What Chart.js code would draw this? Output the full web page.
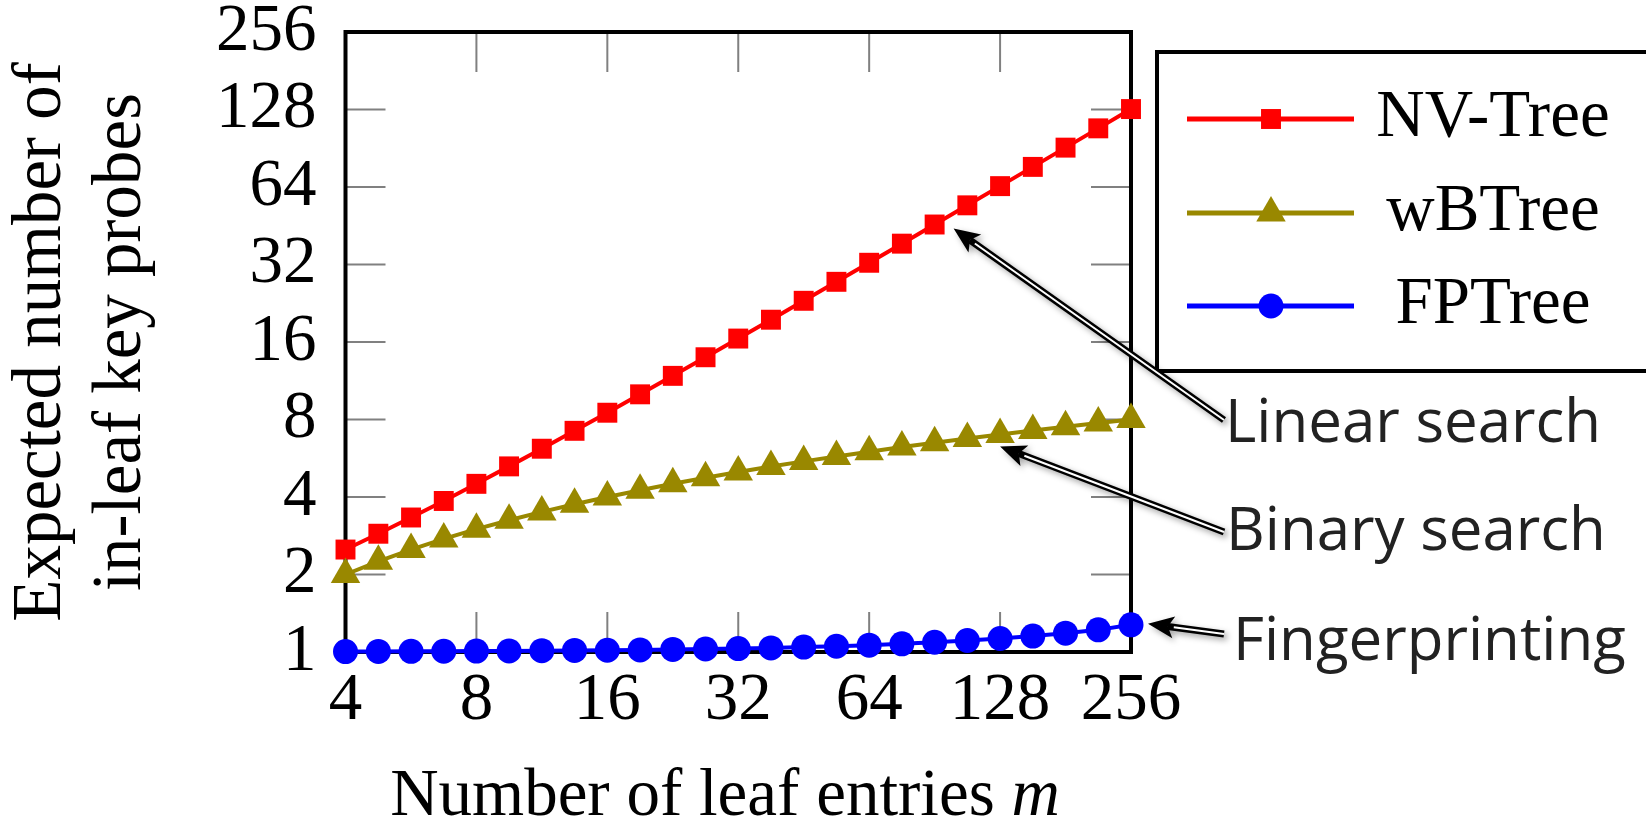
<!DOCTYPE html>
<html>
<head>
<meta charset="utf-8">
<title>Expected in-leaf key probes</title>
<script src="https://cdn.jsdelivr.net/npm/chart.js@4.4.1/dist/chart.umd.min.js"></script>
<style>
  html, body { margin: 0; padding: 0; background: #fff; }
  #wrap { width: 1646px; height: 820px; }
</style>
</head>
<body>
<div id="wrap"><canvas id="chart" width="1646" height="820"></canvas></div>
<script>
// Leaf sizes m (quarter-octave steps) and expected probes per search strategy
const leafEntries = [4, 4.76, 5.66, 6.73, 8, 9.51, 11.31, 13.45, 16, 19.03, 22.63, 26.91, 32,
  38.05, 45.25, 53.82, 64, 76.11, 90.51, 107.63, 128, 152.22, 181.02, 215.27, 256];
const nvTree = [2.5, 2.88, 3.33, 3.86, 4.5, 5.26, 6.16, 7.23, 8.5, 10.02, 11.82, 13.96, 16.5,
  19.53, 23.13, 27.41, 32.5, 38.56, 45.76, 54.32, 64.5, 76.61, 91.01, 108.14, 128.5];
const wbTree = [2, 2.25, 2.5, 2.75, 3, 3.25, 3.5, 3.75, 4, 4.25, 4.5, 4.75, 5,
  5.25, 5.5, 5.75, 6, 6.25, 6.5, 6.75, 7, 7.25, 7.5, 7.75, 8];
const fpTree = [1.004, 1.005, 1.006, 1.007, 1.008, 1.01, 1.012, 1.014, 1.016, 1.019, 1.023, 1.027, 1.031,
  1.037, 1.045, 1.053, 1.063, 1.076, 1.091, 1.108, 1.128, 1.153, 1.183, 1.219, 1.275];
const seriesNames = ['NV-Tree', 'wBTree', 'FPTree'];
const xTicks = [4, 8, 16, 32, 64, 128, 256];
const yTicks = [1, 2, 4, 8, 16, 32, 64, 128, 256];
const calloutTexts = ['Linear search', 'Binary search', 'Fingerprinting'];

const SERIF = 'Liberation Serif';
const SANS = 'Open Sans';

function points(values) {
  return leafEntries.map((m, i) => ({ x: m, y: values[i] }));
}

function series(label, values, color, style, radius, order) {
  return {
    label,
    data: points(values),
    borderColor: color,
    backgroundColor: color,
    borderWidth: 4,
    pointStyle: style,
    pointRadius: radius,
    pointBorderWidth: 0,
    pointHoverRadius: radius,
    fill: false,
    clip: false,
    order
  };
}

// Frame with inward grey ticks on all four sides
const framePlugin = {
  id: 'frame',
  beforeDatasetsDraw(chart) {
    const { ctx, chartArea: a, scales: { x, y } } = chart;
    ctx.save();
    ctx.strokeStyle = '#808080';
    ctx.lineWidth = 2;
    ctx.beginPath();
    xTicks.slice(1, -1).forEach(v => {
      const px = x.getPixelForValue(v);
      ctx.moveTo(px, a.bottom); ctx.lineTo(px, a.bottom - 40);
      ctx.moveTo(px, a.top); ctx.lineTo(px, a.top + 40);
    });
    yTicks.slice(1, -1).forEach(v => {
      const py = y.getPixelForValue(v);
      ctx.moveTo(a.left, py); ctx.lineTo(a.left + 40, py);
      ctx.moveTo(a.right, py); ctx.lineTo(a.right - 40, py);
    });
    ctx.stroke();
    ctx.strokeStyle = '#000';
    ctx.lineWidth = 4;
    ctx.strokeRect(a.left, a.top, a.right - a.left, a.bottom - a.top);
    ctx.restore();
  }
};

function drawMarker(ctx, style, r, cx, cy) {
  ctx.beginPath();
  if (style === 'rect') {
    const s = r * Math.SQRT1_2;
    ctx.rect(cx - s, cy - s, 2 * s, 2 * s);
  } else if (style === 'triangle') {
    ctx.moveTo(cx, cy - r);
    ctx.lineTo(cx + r * Math.sin(2 * Math.PI / 3), cy + r * 0.5);
    ctx.lineTo(cx - r * Math.sin(2 * Math.PI / 3), cy + r * 0.5);
    ctx.closePath();
  } else {
    ctx.arc(cx, cy, r, 0, Math.PI * 2);
  }
  ctx.fill();
}

function drawArrow(ctx, x0, y0, x1, y1) {
  const ang = Math.atan2(y1 - y0, x1 - x0);
  const c = Math.cos(ang), s = Math.sin(ang);
  const headLen = 26, headHalf = 11;
  const bx = x1 - c * headLen, by = y1 - s * headLen;
  ctx.save();
  ctx.shadowColor = 'rgba(0,0,0,0.35)';
  ctx.shadowBlur = 6;
  ctx.shadowOffsetX = 3;
  ctx.shadowOffsetY = 3;
  ctx.strokeStyle = '#000';
  ctx.lineWidth = 7;
  ctx.beginPath();
  ctx.moveTo(x0, y0);
  ctx.lineTo(bx + c * 6, by + s * 6);
  ctx.stroke();
  ctx.fillStyle = '#000';
  ctx.beginPath();
  ctx.moveTo(x1, y1);
  ctx.lineTo(bx - s * headHalf, by + c * headHalf);
  ctx.lineTo(bx + c * 6, by + s * 6);
  ctx.lineTo(bx + s * headHalf, by - c * headHalf);
  ctx.closePath();
  ctx.fill();
  ctx.shadowColor = 'transparent';
  ctx.strokeStyle = '#fff';
  ctx.lineWidth = 2;
  ctx.beginPath();
  ctx.moveTo(x0, y0);
  ctx.lineTo(bx, by);
  ctx.stroke();
  ctx.restore();
}

// Legend box, callout arrows and the x-axis title
const overlayPlugin = {
  id: 'overlay',
  afterDraw(chart) {
    const { ctx } = chart;
    ctx.save();

    // legend
    ctx.strokeStyle = '#000';
    ctx.lineWidth = 4;
    ctx.strokeRect(1157, 52, 560, 319);
    const rows = [119, 213, 306];
    chart.data.datasets.forEach((ds, i) => {
      const ry = rows[i];
      ctx.strokeStyle = ds.borderColor;
      ctx.lineWidth = 5;
      ctx.beginPath();
      ctx.moveTo(1187, ry);
      ctx.lineTo(1354, ry);
      ctx.stroke();
      ctx.fillStyle = ds.backgroundColor;
      drawMarker(ctx, ds.pointStyle, ds.pointRadius, 1271, ry);
      ctx.fillStyle = '#000';
      ctx.font = `67px "${SERIF}"`;
      ctx.textAlign = 'center';
      ctx.textBaseline = 'alphabetic';
      ctx.fillText(ds.label, 1493, ry + 17);
    });

    // callouts: arrow tip next to a data point, tail at the label
    const callouts = [
      { ds: 0, idx: 18, dx: 19, dy: 4, tail: [1224, 420], text: [1225, 442] },
      { ds: 1, idx: 20, dx: 0, dy: 12, tail: [1224, 532], text: [1226, 550] },
      { ds: 2, idx: 24, dx: 17, dy: -1, tail: [1224, 634], text: [1233, 660] }
    ];
    callouts.forEach((c, i) => {
      const pt = chart.getDatasetMeta(c.ds).data[c.idx];
      drawArrow(ctx, c.tail[0], c.tail[1], pt.x + c.dx, pt.y + c.dy);
      ctx.fillStyle = '#222';
      ctx.font = `60px "${SANS}"`;
      ctx.textAlign = 'left';
      ctx.textBaseline = 'alphabetic';
      ctx.fillText(calloutTexts[i], c.text[0], c.text[1]);
    });

    // x title with italic m
    const plain = 'Number of leaf entries ';
    ctx.font = `67px "${SERIF}"`;
    const w1 = ctx.measureText(plain).width;
    ctx.font = `italic 67px "${SERIF}"`;
    const w2 = ctx.measureText('m').width;
    const startX = 725 - (w1 + w2) / 2;
    ctx.fillStyle = '#000';
    ctx.textAlign = 'left';
    ctx.font = `67px "${SERIF}"`;
    ctx.fillText(plain, startX, 815);
    ctx.font = `italic 67px "${SERIF}"`;
    ctx.fillText('m', startX + w1, 815);

    ctx.restore();
  }
};

const ctx = document.getElementById('chart').getContext('2d');
const chart = new Chart(ctx, {
  type: 'line',
  data: {
    datasets: [
      series(seriesNames[0], nvTree, '#ff0000', 'rect', 14.1, 3),
      series(seriesNames[1], wbTree, '#998800', 'triangle', 17, 2),
      series(seriesNames[2], fpTree, '#0000ff', 'circle', 12.5, 1)
    ]
  },
  options: {
    responsive: false,
    animation: false,
    devicePixelRatio: 1,
    layout: { padding: { top: 32, right: 515, bottom: 0, left: 0 } },
    plugins: {
      legend: { display: false },
      tooltip: { enabled: false }
    },
    scales: {
      x: {
        type: 'logarithmic',
        min: 4,
        max: 256,
        afterBuildTicks: s => { s.ticks = xTicks.map(v => ({ value: v })); },
        afterFit: s => { s.height = 168; s.paddingLeft = 0; s.paddingRight = 0; },
        grid: { display: false, drawTicks: false },
        border: { display: false },
        ticks: {
          autoSkip: false,
          maxRotation: 0,
          padding: 9,
          color: '#000',
          font: { family: SERIF, size: 67 },
          callback: v => String(v)
        }
      },
      y: {
        type: 'logarithmic',
        min: 1,
        max: 256,
        afterBuildTicks: s => { s.ticks = yTicks.map(v => ({ value: v })); },
        afterFit: s => { s.width = 345.5; s.paddingTop = 0; s.paddingBottom = 0; },
        grid: { display: false, drawTicks: false },
        border: { display: false },
        ticks: {
          autoSkip: false,
          padding: 29,
          color: '#000',
          font: { family: SERIF, size: 67 },
          callback: v => String(v)
        },
        title: {
          display: true,
          text: ['Expected number of', 'in-leaf key probes'],
          color: '#000',
          padding: { top: 2, bottom: 0 },
          font: { family: SERIF, size: 69, lineHeight: 1.16 }
        }
      }
    }
  },
  plugins: [framePlugin, overlayPlugin]
});
</script>
</body>
</html>
